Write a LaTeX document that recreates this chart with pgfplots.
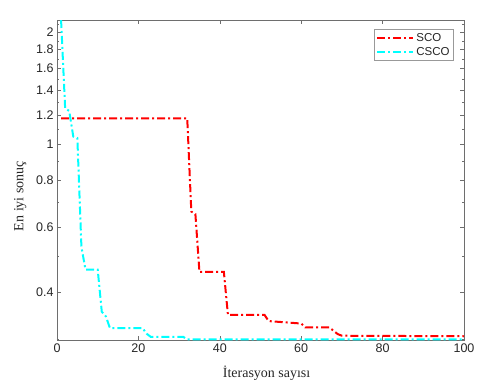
\documentclass[border=0pt]{standalone}
\usepackage{fontspec}
\setmainfont{Liberation Serif}
\newfontfamily\arial{Liberation Sans}
\usepackage{pgfplots}
\pgfplotsset{compat=1.18}
\definecolor{myred}{RGB}{255,0,0}
\definecolor{mycyan}{RGB}{0,255,255}
\definecolor{axgray}{RGB}{110,110,110}
\definecolor{txtgray}{RGB}{38,38,38}
\begin{document}
\begin{tikzpicture}
\begin{axis}[
  name=ax,
  scale only axis, width=407pt, height=320pt,
  xmin=0, xmax=100, ymode=log, ymin=0.298, ymax=2.16,
  xtick={0,20,40,60,80,100},
  ytick={0.4,0.6,0.8,1,1.2,1.4,1.6,1.8,2},
  yticklabels={0.4,0.6,0.8,1,1.2,1.4,1.6,1.8,2},
  minor ytick={0.3,0.5,0.7,0.9,1.1,1.3,1.5,1.7,1.9,2.1},
  /pgf/number format/assume math mode=true,
  tick label style={font=\arial\fontsize{12.5}{14}\selectfont, text=txtgray},
  tick align=inside,
  major tick length=4pt, minor tick length=2pt,
  every tick/.style={axgray},
  axis line style={axgray},
  xlabel={İterasyon sayısı}, ylabel={En iyi sonuç},
  label style={font=\fontsize{14}{16}\selectfont, text=txtgray},
  xlabel style={at={(axis description cs:0.515,-0.105)}, anchor=center},
  ylabel style={at={(axis description cs:-0.09,0.45)}, anchor=center},
  legend style={at={(0.975,0.971)}, anchor=north east, draw=black!40,
    font=\arial\fontsize{11.5}{13}\selectfont, inner sep=2pt, row sep=0pt, text=txtgray},
  legend cell align=left,
  legend image code/.code={\draw[#1] (0pt,0pt) -- (36pt,0pt);},
]
\addplot[draw=myred, line width=2pt, dash pattern=on 8pt off 3pt on 2pt off 3pt] coordinates {
(1,1.175)(32,1.175)(33,0.66)(34,0.65)(35,0.454)(41,0.454)(42,0.348)(51,0.348)(52,0.335)(60,0.33)(61,0.322)(67,0.322)(68,0.315)(69,0.309)(70,0.306)(100,0.305)};
\addlegendentry{SCO}
\addplot[draw=mycyan, line width=2pt, dash pattern=on 8pt off 3pt on 2pt off 3pt] coordinates {
(1,2.16)(2,1.25)(3,1.23)(4,1.05)(5,1.04)(6,0.53)(7,0.461)(10,0.461)(11,0.355)(12,0.345)(13,0.321)(21,0.321)(22,0.31)(23,0.304)(31,0.304)(32,0.299)(100,0.299)};
\addlegendentry{CSCO}
\node[anchor=base west, yshift=5pt, inner sep=0pt, font=\arial\fontsize{12.5}{14}\selectfont, text=txtgray] at (rel axis cs:0,1) {\texttimes10\textsuperscript{16}};
\end{axis}
\pgfresetboundingbox
\path ([shift={(-57pt,-49pt)}]ax.south west) rectangle ([shift={(13pt,20pt)}]ax.north east);
\end{tikzpicture}
\end{document}
